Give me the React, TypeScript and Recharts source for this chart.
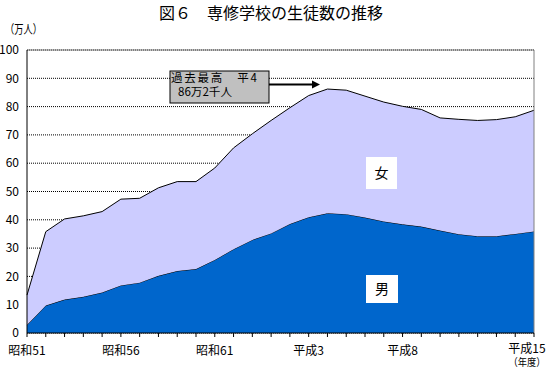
import { Area, AreaChart, CartesianGrid, ReferenceLine, XAxis, YAxis } from "recharts";

const years = [
  "昭和51", "昭和52", "昭和53", "昭和54", "昭和55", "昭和56", "昭和57",
  "昭和58", "昭和59", "昭和60", "昭和61", "昭和62", "昭和63", "平成元",
  "平成2", "平成3", "平成4", "平成5", "平成6", "平成7", "平成8",
  "平成9", "平成10", "平成11", "平成12", "平成13", "平成14", "平成15",
];

// 男 (万人)
const male = [
  2.8, 9.7, 11.8, 12.8, 14.3, 16.8, 17.8, 20.2, 21.9, 22.6, 25.8, 29.6, 32.9, 35.2,
  38.5, 40.9, 42.3, 42.0, 40.8, 39.4, 38.4, 37.6, 36.2, 34.9, 34.2, 34.2, 35.0, 35.9,
];

// 女 (万人)
const female = [
  10.6, 26.1, 28.5, 28.6, 28.6, 30.5, 29.8, 31.1, 31.6, 30.9, 32.5, 35.8, 37.5, 39.9,
  41.1, 43.0, 43.9, 43.8, 42.9, 42.2, 41.7, 41.4, 39.8, 40.6, 40.9, 41.2, 41.4, 42.8,
];

const shownYears = ["昭和51", "昭和56", "昭和61", "平成3", "平成8", "平成15"];
const yTicks = [0, 10, 20, 30, 40, 50, 60, 70, 80, 90, 100];

const FONT = '"Noto Sans CJK JP", "Noto Sans", sans-serif';
const MALE_FILL = "#0066CC";
const FEMALE_FILL = "#CCCCFF";

const data = years.map((year, i) => ({ year, male: male[i], female: female[i] }));

function YearTick(props: any) {
  const { x, y, payload } = props;
  const label = payload?.value as string;
  if (!shownYears.includes(label)) return <g />;
  const isLast = label === years[years.length - 1];
  const cx = isLast ? x - 7 : x;
  return (
    <g>
      <text x={cx} y={y + (isLast ? 16 : 17.5)} textAnchor="middle" fontSize={12} fontFamily={FONT} fill="#000">
        {label}
      </text>
      {isLast && (
        <text
          x={cx}
          y={y + 28.5}
          textAnchor="middle"
          fontSize={10.5}
          fontFamily={FONT}
          fill="#000"
          textLength={37}
          lengthAdjust="spacingAndGlyphs"
        >
          （年度）
        </text>
      )}
    </g>
  );
}

export default function App() {
  return (
    <div style={{ position: "absolute", left: 0, top: 0, width: 550, height: 370, background: "#fff" }}>
      <AreaChart
        width={550}
        height={370}
        data={data}
        margin={{ top: 50, right: 16, bottom: 7, left: 0 }}
      >
        <CartesianGrid vertical={false} stroke="#000" strokeDasharray="1 1" />
        <XAxis
          dataKey="year"
          interval={0}
          tick={<YearTick />}
          tickSize={4}
          tickMargin={0}
          height={30}
          axisLine={{ stroke: "#000" }}
          tickLine={{ stroke: "#000" }}
        />
        <YAxis
          type="number"
          domain={[0, 100]}
          ticks={yTicks}
          width={27}
          tickLine={false}
          axisLine={{ stroke: "#000" }}
          tick={{ fontSize: 12, fill: "#000", fontFamily: FONT }}
        />
        <ReferenceLine y={100} stroke="#808080" />
        <Area
          type="linear"
          dataKey="male"
          stackId="a"
          fill={MALE_FILL}
          fillOpacity={1}
          stroke="#000"
          strokeWidth={1}
          isAnimationActive={false}
        />
        <Area
          type="linear"
          dataKey="female"
          stackId="a"
          fill={FEMALE_FILL}
          fillOpacity={1}
          stroke="#000"
          strokeWidth={1}
          isAnimationActive={false}
        />
        <ReferenceLine x={years[years.length - 1]} stroke="#808080" />
      </AreaChart>
      <svg
        width={550}
        height={370}
        style={{ position: "absolute", left: 0, top: 0, pointerEvents: "none" }}
      >
        <text x={159} y={19} fontSize={16} fontFamily={FONT} fill="#000">
          図６　専修学校の生徒数の推移
        </text>
        <text
          x={5}
          y={34}
          fontSize={12}
          fontFamily={FONT}
          fill="#000"
          textLength={37}
          lengthAdjust="spacingAndGlyphs"
        >
          （万人）
        </text>
        <rect x={170} y={71} width={99} height={32} fill="#C0C0C0" stroke="#000" strokeWidth={1} />
        <text x={171} y={81.5} fontSize={11.5} fontFamily={FONT} fill="#000" textLength={86} lengthAdjust="spacing">
          過去最高　平4
        </text>
        <text x={178} y={96} fontSize={11.5} fontFamily={FONT} fill="#000" textLength={54} lengthAdjust="spacingAndGlyphs">
          86万2千人
        </text>
        <line x1={269} y1={84.5} x2={313} y2={84.5} stroke="#000" strokeWidth={2} />
        <polygon points="312,80.5 320,84.5 312,88.5" fill="#000" />
        <rect x={366} y={157} width={31} height={32} fill="#fff" />
        <text x={381.5} y={178} textAnchor="middle" fontSize={14} fontFamily={FONT} fill="#000">
          女
        </text>
        <rect x={366} y={275} width={32} height={28} fill="#fff" />
        <text x={382} y={294} textAnchor="middle" fontSize={14} fontFamily={FONT} fill="#000">
          男
        </text>
      </svg>
    </div>
  );
}
